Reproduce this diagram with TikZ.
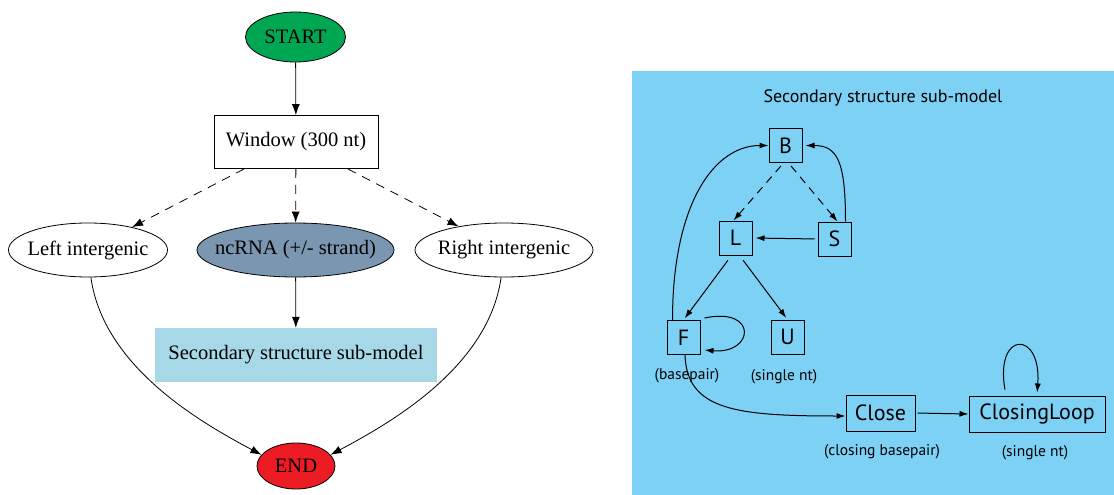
\documentclass[tikz,border=0pt]{standalone}
\usepackage{fontspec}
\setmainfont{Liberation Serif}
\newfontfamily\panelsans{PT Sans}
\usetikzlibrary{shapes.geometric,arrows.meta}
\definecolor{startgreen}{RGB}{0,166,81}
\definecolor{endred}{RGB}{237,28,36}
\definecolor{slate}{RGB}{122,150,176}
\definecolor{subbox}{RGB}{166,216,232}
\definecolor{panelblue}{RGB}{124,209,245}
\tikzset{
  lfont/.style={font=\fontsize{20.5}{24}\selectfont},
  ell/.style={ellipse, draw, line width=0.8pt, inner xsep=-20pt, inner ysep=0pt, minimum height=54pt, lfont},
  larr/.style={line width=0.8pt, -{Latex[length=11pt,width=8pt]}},
  ldash/.style={larr, dash pattern=on 9pt off 7pt},
  sqbox/.style={draw, line width=1pt, inner sep=0pt, minimum width=33pt, minimum height=34pt, font=\panelsans\fontsize{22}{26}\selectfont},
  sarr/.style={line width=1pt, -{Latex[length=9pt,width=6pt]}},
  sdash/.style={sarr, dash pattern=on 8pt off 6pt},
  sublabel/.style={font=\panelsans\fontsize{15.5}{18}\selectfont, inner sep=0pt},
}
\begin{document}
\begin{tikzpicture}[x=1pt,y=1pt]
\useasboundingbox (0,0) rectangle (1114,-495);
% ---------- left flow ----------
\node[ell, fill=startgreen, minimum width=100pt, minimum height=50pt] (start) at (295.5,-37) {START};
\node[draw, line width=0.8pt, minimum width=164pt, minimum height=53pt, inner sep=0pt, lfont] (win) at (296,-142) {Window (300 nt)};
\node[ell, minimum width=159pt] (left) at (88,-250) {Left intergenic};
\node[ell, fill=slate, minimum width=197pt] (nc) at (295.5,-250) {ncRNA (+/- strand)};
\node[ell, minimum width=178pt] (right) at (504,-250) {Right intergenic};
\node[fill=subbox, minimum width=282pt, minimum height=54pt, inner sep=0pt, lfont] (sub) at (296,-355) {Secondary structure sub-model};
\node[ell, fill=endred, minimum width=78pt, minimum height=46pt] (end) at (296,-466) {END};

\draw[larr] (start) -- (win);
\draw[ldash] (win) -- (left);
\draw[ldash] (win) -- (nc);
\draw[ldash] (win) -- (right);
\draw[larr] (nc) -- (sub);
\draw[larr] (left.-84) to[out=-82,in=152,out distance=90pt,in distance=70pt] (end.162);
\draw[larr] (right.-96) to[out=-98,in=28,out distance=90pt,in distance=70pt] (end.18);

% ---------- right panel ----------
\fill[panelblue] (632,-71) rectangle (1114,-495);
\node[font=\panelsans\fontsize{18}{22}\selectfont] (title) at (883,-98) {Secondary structure sub-model};

\node[sqbox] (B) at (785.5,-145.5) {B};
\node[sqbox] (L) at (735.5,-238) {L};
\node[sqbox] (S) at (834.5,-239) {S};
\node[sqbox] (F) at (683.5,-337.5) {F};
\node[sqbox] (U) at (787.5,-337) {U};
\node[sqbox, minimum width=69pt, minimum height=36pt] (close) at (880.5,-413) {Close};
\node[sqbox, minimum width=136pt, minimum height=36pt] (loop) at (1037,-414) {ClosingLoop};

\node[sublabel] (lf) at (687,-376) {(basepair)};
\node[sublabel] (lu) at (784,-377) {(single nt)};
\node[sublabel] (lc) at (882,-452) {(closing basepair)};
\node[sublabel] (ll) at (1035,-453) {(single nt)};

\draw[sdash, shorten <=4pt] ([xshift=-2pt]B.south) -- ([xshift=-2pt]L.north);
\draw[sdash, shorten <=4pt] ([xshift=3pt]B.south) -- ([xshift=3pt]S.north);
\draw[sarr, shorten >=3pt] ([xshift=11pt]S.north) to[out=90,in=0,out distance=60pt,in distance=35pt] (B.east);
\draw[sarr, shorten <=3pt, shorten >=3pt] (S.west) -- (L.east);
\draw[sarr, shorten <=6pt, shorten >=2pt] ([xshift=-4pt]L.south) -- (F.north);
\draw[sarr, shorten <=6pt, shorten >=2pt] ([xshift=4pt]L.south) -- (U.north);
\draw[sarr] ([xshift=-11pt]F.north) to[out=90,in=180,out distance=115pt,in distance=55pt] (B.west);
\draw[sarr] ([shift={(4pt,2pt)}]F.north east) to[out=12,in=-5,out distance=55pt,in distance=50pt] ([shift={(4pt,5pt)}]F.south east);
\draw[sarr] ([xshift=1.5pt]F.south) to[out=-88,in=180,out distance=55pt,in distance=110pt] ([yshift=-3pt]close.west);
\draw[sarr, shorten <=2pt] (close.east) -- (loop.west);
\draw[sarr, shorten <=6pt, shorten >=3pt] ([xshift=-31pt]loop.north) to[out=100,in=86,distance=66pt] (loop.north);
\end{tikzpicture}
\end{document}
